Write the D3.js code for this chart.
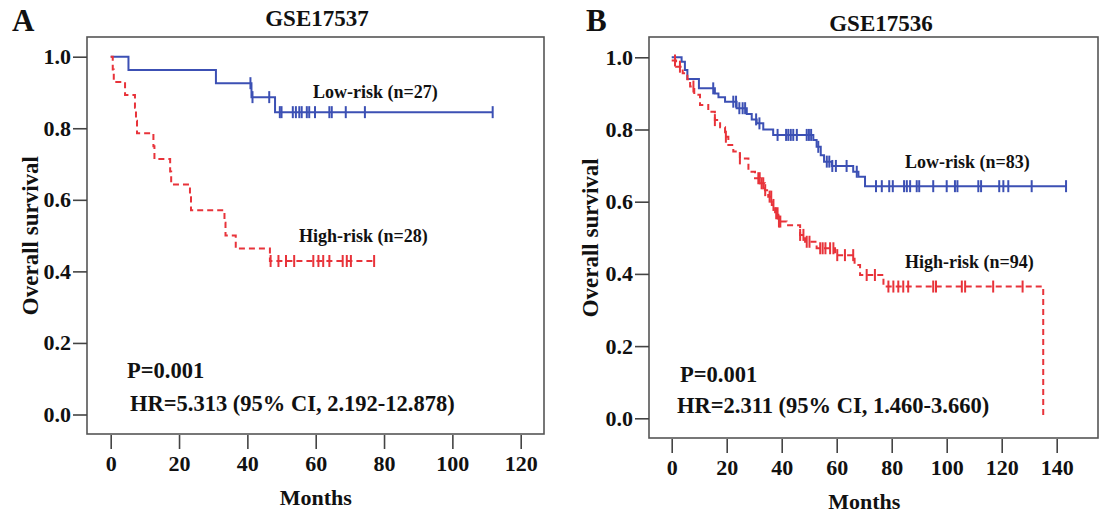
<!DOCTYPE html>
<html>
<head>
<meta charset="utf-8">
<script src="https://cdn.jsdelivr.net/npm/d3@7"></script>
<style>
  body { margin: 0; background: #fff; }
  svg text { font-family: "Liberation Serif", "Times New Roman", serif; font-weight: bold; fill: #111; }
</style>
</head>
<body>
<div id="chart"></div>
<script>
// tick values
const survivalTicks = [0, 0.2, 0.4, 0.6, 0.8, 1.0];
const monthTicksA = [0, 20, 40, 60, 80, 100, 120];
const monthTicksB = [0, 20, 40, 60, 80, 100, 120, 140];

// GSE17537 - steps are [month, survival after the drop]
const lowStepsA = [[0, 1], [5.2, 0.963], [30.8, 0.926], [41.2, 0.887], [48.1, 0.845]];
const lowCensorA = [40.9, 41.5, 46.4, 49.5, 50.0, 53.3, 54.2, 55.2, 55.9, 57.4, 58.1, 59.8, 64.0, 64.7, 68.8, 74.4, 111.8];
const highStepsA = [[0, 1], [0.6, 0.964], [0.9, 0.929], [4.2, 0.893], [7.1, 0.857], [7.4, 0.821], [7.7, 0.786],
  [12.5, 0.75], [12.8, 0.714], [17.4, 0.679], [17.7, 0.643], [23.2, 0.607], [23.5, 0.571], [33.3, 0.536],
  [33.6, 0.5], [36.6, 0.464], [46.6, 0.429]];
const highCensorA = [46.8, 49.1, 51.3, 53.7, 59.3, 60.8, 62.2, 64.0, 67.9, 69.1, 70.3, 77.1];

// GSE17536
const lowStepsB = [[0, 1], [3.6, 0.988], [4.8, 0.965], [5.7, 0.940], [9.9, 0.914], [15.7, 0.900], [17.0, 0.889],
  [19.4, 0.877], [23.6, 0.859], [27.3, 0.843], [29.1, 0.828], [30.9, 0.817], [33.3, 0.800], [36.9, 0.785],
  [51.5, 0.771], [52.7, 0.752], [54.2, 0.729], [55.4, 0.711], [58.2, 0.699], [66.0, 0.683], [67.9, 0.669], [70.3, 0.643]];
const lowCensorB = [15.1, 22.4, 23.4, 24.6, 25.8, 26.7, 30.7, 31.9, 38.5, 41.6, 42.4, 43.3, 44.2, 45.5, 49.1, 49.9,
  50.7, 53.3, 56.4, 57.3, 58.4, 59.7, 63.6, 67.3, 74.3, 76.4, 79.1, 80.4, 84.5, 85.5, 86.7, 89.1, 90.0, 95.1,
  100.0, 103.0, 103.9, 111.5, 112.5, 119.1, 120.6, 122.4, 130.9, 143.4];
const highStepsB = [[0, 0.991], [1.6, 0.974], [4.0, 0.956], [5.7, 0.939], [6.7, 0.919], [8.2, 0.896], [10.3, 0.868],
  [13.3, 0.849], [15.7, 0.826], [17.6, 0.806], [19.4, 0.780], [20.6, 0.757], [22.4, 0.739], [24.8, 0.720],
  [27.9, 0.683], [30.3, 0.665], [32.1, 0.651], [33.9, 0.632], [35.1, 0.614], [36.4, 0.591], [37.6, 0.568],
  [38.8, 0.545], [41.8, 0.535], [46.7, 0.508], [48.5, 0.489], [52.7, 0.471], [59.4, 0.452], [66.5, 0.425],
  [68.5, 0.397], [77.0, 0.365], [135.1, 0]];
const highCensorB = [1.2, 3.0, 7.9, 15.7, 19.7, 24.8, 31.5, 32.0, 32.7, 33.3, 34.0, 35.6, 36.2, 37.0, 38.0, 38.5,
  39.0, 39.5, 46.7, 47.9, 49.1, 50.1, 54.0, 54.9, 55.9, 57.6, 58.8, 60.2, 63.0, 66.0, 70.9, 73.9, 78.8, 80.6,
  82.4, 84.2, 86.0, 95.1, 96.1, 105.5, 106.7, 116.9, 127.6];

const lowColor = "#3c50b4";
const highColor = "#e8333a";

const svg = d3.select("#chart").append("svg")
    .attr("width", 1099)
    .attr("height", 515);

// survival value of a step curve at time t
function survAt(steps, t) {
    let s = steps[0][1];
    steps.forEach(d => { if (d[0] <= t) s = d[1]; });
    return s;
}

function drawPanel(p) {
    const g = svg.append("g");
    const x = d3.scaleLinear().domain([0, p.xMax]).range(p.xRange);
    const y = d3.scaleLinear().domain([0, 1]).range(p.yRange);

    // frame
    g.append("rect")
        .attr("x", p.box[0]).attr("y", p.box[1])
        .attr("width", p.box[2] - p.box[0]).attr("height", p.box[3] - p.box[1])
        .attr("fill", "none").attr("stroke", "#555").attr("stroke-width", 1.6);

    const xAxis = g.append("g")
        .attr("transform", `translate(0,${p.box[3] + 1})`)
        .call(d3.axisBottom(x).tickValues(p.xTicks).tickSize(14).tickPadding(6).tickFormat(d3.format("d")));
    const yAxis = g.append("g")
        .attr("transform", `translate(${p.box[0]},0)`)
        .call(d3.axisLeft(y).tickValues(survivalTicks).tickSize(14).tickPadding(2).tickFormat(d3.format(".1f")));
    [xAxis, yAxis].forEach(a => {
        a.select(".domain").remove();
        a.selectAll("line").attr("stroke", "#444").attr("stroke-width", 1.6);
        a.selectAll("text").style("font-size", "22px").style("font-family", null).attr("fill", "#111");
    });

    const line = d3.line()
        .x(d => x(d[0]))
        .y(d => y(d[1]))
        .curve(d3.curveStepAfter);

    p.series.forEach(s => {
        const end = d3.max([d3.max(s.censor), s.steps[s.steps.length - 1][0]]);
        const pts = s.steps.concat([[end, s.steps[s.steps.length - 1][1]]]);
        g.append("path")
            .attr("d", line(pts))
            .attr("fill", "none")
            .attr("stroke", s.color)
            .attr("stroke-width", 2)
            .attr("stroke-dasharray", s.dash);
        g.selectAll(null)
            .data(s.censor)
            .enter().append("line")
            .attr("x1", d => x(d)).attr("x2", d => x(d))
            .attr("y1", d => y(survAt(s.steps, d)) - 6)
            .attr("y2", d => y(survAt(s.steps, d)) + 6)
            .attr("stroke", s.color)
            .attr("stroke-width", 2);
        g.append("text")
            .attr("x", s.label[1]).attr("y", s.label[2])
            .style("font-size", "18px")
            .text(s.label[0]);
    });

    // titles and notes
    g.append("text").attr("x", p.letter[1]).attr("y", p.letter[2])
        .style("font-size", "31px").text(p.letter[0]);
    g.append("text").attr("x", p.title[1]).attr("y", p.title[2])
        .attr("text-anchor", "middle").style("font-size", "23px").text(p.title[0]);
    g.append("text").attr("x", p.pText[1]).attr("y", p.pText[2])
        .style("font-size", "22.5px").text(p.pText[0]);
    g.append("text").attr("x", p.hrText[1]).attr("y", p.hrText[2])
        .style("font-size", "22.5px").text(p.hrText[0]);
    g.append("text")
        .attr("x", (p.xRange[0] + x(p.xTicks[p.xTicks.length - 1])) / 2)
        .attr("y", p.box[3] + 71)
        .attr("text-anchor", "middle").style("font-size", "22px").text("Months");
    g.append("text")
        .attr("transform", `translate(${p.yLabelX},${(p.yRange[0] + p.yRange[1]) / 2}) rotate(-90)`)
        .attr("text-anchor", "middle").style("font-size", "23px").text("Overall survival");
}

drawPanel({
    xMax: 120, xRange: [110.7, 520.7], yRange: [414.5, 56.7],
    box: [87, 37, 544, 434], xTicks: monthTicksA, yLabelX: 38,
    letter: ["A", 12, 31], title: ["GSE17537", 317, 26],
    pText: ["P=0.001", 127, 378], hrText: ["HR=5.313 (95% CI, 2.192-12.878)", 130, 411],
    series: [
        {steps: lowStepsA, censor: lowCensorA, color: lowColor, dash: null, label: ["Low-risk (n=27)", 313, 98]},
        {steps: highStepsA, censor: highCensorA, color: highColor, dash: "6,4", label: ["High-risk (n=28)", 299, 242]}
    ]
});

drawPanel({
    xMax: 140, xRange: [671.7, 1056.7], yRange: [418.3, 57.3],
    box: [649, 37, 1098, 438], xTicks: monthTicksB, yLabelX: 598,
    letter: ["B", 586, 31], title: ["GSE17536", 881, 31],
    pText: ["P=0.001", 680, 382], hrText: ["HR=2.311 (95% CI, 1.460-3.660)", 677, 413],
    series: [
        {steps: lowStepsB, censor: lowCensorB, color: lowColor, dash: null, label: ["Low-risk (n=83)", 905, 168]},
        {steps: highStepsB, censor: highCensorB, color: highColor, dash: "6,4", label: ["High-risk (n=94)", 905, 268]}
    ]
});
</script>
</body>
</html>
